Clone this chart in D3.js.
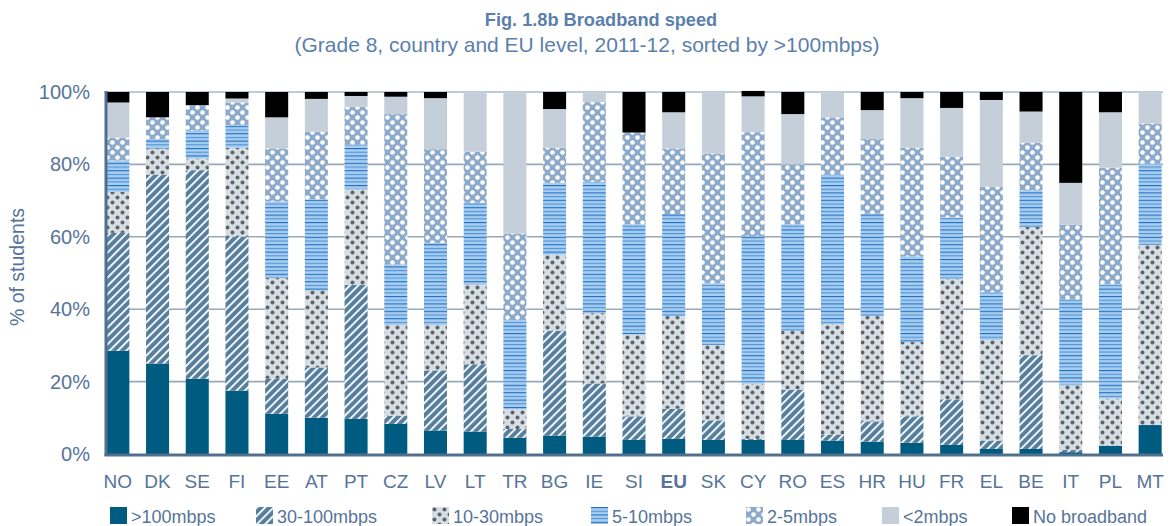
<!DOCTYPE html>
<html>
<head>
<meta charset="utf-8">
<script src="https://cdn.jsdelivr.net/npm/d3@7"></script>
<style>
  body { margin: 0; background: #fff; }
  text { font-family: "Liberation Sans", Arial, sans-serif; }
</style>
</head>
<body>
<div id="chart"></div>
<script>
// countries, sorted by >100mbps (EU average in the middle)
const countries = ["NO","DK","SE","FI","EE","AT","PT","CZ","LV","LT","TR","BG","IE","SI","EU","SK","CY","RO","ES","HR","HU","FR","EL","BE","IT","PL","MT"];

// % of students per speed band
const over100  = [28.5,25.0,20.8,17.5,11.1,10.0,9.7,8.3,6.5,6.2,4.5,5.1,4.8,3.9,4.2,3.9,3.9,3.9,3.7,3.4,3.1,2.5,1.4,1.4,0.5,2.3,8.0];
const s30to100 = [32.6,52.2,57.6,42.5,9.7,13.9,37.0,2.3,16.6,18.6,2.4,28.9,14.7,6.5,8.3,5.4,0.3,13.9,1.7,5.6,7.3,12.6,2.3,25.9,0.6,0,0];
const s10to30  = [11.3,7.2,3.2,24.6,27.8,21.2,26.4,25.0,12.5,21.9,5.4,21.0,19.4,22.6,25.6,20.8,15.2,16.2,30.5,29.1,20.6,33.3,27.8,35.4,17.9,13.0,49.8];
const s5to10   = [8.7,2.6,7.7,6.2,21.2,25.2,12.3,16.7,22.7,22.7,24.7,19.9,36.3,30.4,28.2,17.1,40.8,29.4,41.2,28.3,23.6,17.0,13.2,10.1,23.6,31.6,22.4];
const s2to5    = [6.3,6.0,7.1,6.3,14.6,18.7,10.5,41.6,25.9,14.1,23.9,9.7,22.0,25.4,18.1,35.8,28.7,16.6,15.9,20.6,30.0,16.7,29.1,13.2,20.8,32.2,11.1];
const under2   = [9.7,0,0,1.1,8.6,9.1,3.0,4.8,14.1,16.5,39.1,10.7,2.8,0,10.0,17.0,9.9,13.9,7.0,8.0,13.7,13.5,24.0,8.6,11.5,15.3,8.7];
const noBroadband = [2.9,7.0,3.6,1.8,7.0,1.9,1.1,1.3,1.7,0,0,4.7,0,11.2,5.6,0,1.5,6.1,0,5.0,1.7,4.4,2.2,5.4,25.1,5.6,0];

const seriesNames = [">100mbps","30-100mbps","10-30mbps","5-10mbps","2-5mbps","<2mbps","No broadband"];
const seriesValues = [over100, s30to100, s10to30, s5to10, s2to5, under2, noBroadband];
const yTicks = [0,20,40,60,80,100];

const W = 1175, H = 526;
const labelColor = "#56749a";

const table = countries.map((c, i) => {
  const row = {country: c};
  seriesNames.forEach((s, k) => row[s] = seriesValues[k][i]);
  return row;
});

const svg = d3.select("#chart").append("svg")
  .attr("width", W).attr("height", H);

// fill patterns
const defs = svg.append("defs");

const diag = defs.append("pattern").attr("id", "p30").attr("patternUnits", "userSpaceOnUse")
  .attr("width", 5.9).attr("height", 5.9).attr("patternTransform", "rotate(45)");
diag.append("rect").attr("width", 5.9).attr("height", 5.9).attr("fill", "#567e9d");
diag.append("rect").attr("x", 0).attr("width", 1.8).attr("height", 5.9).attr("fill", "#fff");

const dots = defs.append("pattern").attr("id", "p10").attr("patternUnits", "userSpaceOnUse")
  .attr("width", 10).attr("height", 10);
dots.append("rect").attr("width", 10).attr("height", 10).attr("fill", "#d5dde5");
dots.append("circle").attr("cx", 2.5).attr("cy", 2.5).attr("r", 2).attr("fill", "#626262");
dots.append("circle").attr("cx", 7.5).attr("cy", 7.5).attr("r", 2).attr("fill", "#626262");

const hlines = defs.append("pattern").attr("id", "p5").attr("patternUnits", "userSpaceOnUse")
  .attr("width", 8).attr("height", 7.4);
hlines.append("rect").attr("width", 8).attr("height", 7.4).attr("fill", "#a8cdee");
hlines.append("rect").attr("y", 0).attr("width", 8).attr("height", 1.1).attr("fill", "#1d6fc6");
hlines.append("rect").attr("y", 3.7).attr("width", 8).attr("height", 1.1).attr("fill", "#4c93dc");

const wdots = defs.append("pattern").attr("id", "p2").attr("patternUnits", "userSpaceOnUse")
  .attr("width", 10).attr("height", 10);
wdots.append("rect").attr("width", 10).attr("height", 10).attr("fill", "#8eaacb");
wdots.append("circle").attr("cx", 2.5).attr("cy", 2.5).attr("r", 2.3).attr("fill", "#fff");
wdots.append("circle").attr("cx", 7.5).attr("cy", 7.5).attr("r", 2.3).attr("fill", "#fff");

const fills = ["#005b80", "url(#p30)", "url(#p10)", "url(#p5)", "url(#p2)", "#c5cfd9", "#000"];

const x = d3.scaleBand().domain(countries).range([98, 1170])
  .paddingInner(0.42).paddingOuter(0.21);
const y = d3.scaleLinear().domain([0, 100]).range([454, 92]);

// title
svg.append("text").attr("x", 601).attr("y", 26).attr("text-anchor", "middle")
  .attr("font-size", 18.2).attr("font-weight", "bold").attr("fill", "#5b7fad")
  .text("Fig. 1.8b Broadband speed");
svg.append("text").attr("x", 587).attr("y", 52).attr("text-anchor", "middle")
  .attr("font-size", 21).attr("fill", "#5b7fad")
  .text("(Grade 8, country and EU level, 2011-12, sorted by >100mbps)");

// gridlines
svg.append("g").selectAll("line").data(yTicks.filter(d => d > 0)).join("line")
  .attr("x1", 106).attr("x2", 1163)
  .attr("y1", d => y(d)).attr("y2", d => y(d))
  .attr("stroke", d => d === 100 ? "#a8b8c8" : "#97a9b6").attr("stroke-width", 1.6);

// stacked bars
const stack = d3.stack().keys(seriesNames)(table);
svg.append("g").selectAll("g").data(stack).join("g")
  .attr("fill", (d, i) => fills[i])
  .selectAll("rect").data(d => d).join("rect")
  .attr("x", d => x(d.data.country))
  .attr("width", x.bandwidth())
  .attr("y", d => y(d[1]))
  .attr("height", d => y(d[0]) - y(d[1]));

// axes lines
svg.append("line").attr("x1", 106).attr("x2", 106).attr("y1", 91).attr("y2", 456)
  .attr("stroke", "#50708f").attr("stroke-width", 3);
svg.append("line").attr("x1", 104.5).attr("x2", 1163).attr("y1", 455).attr("y2", 455)
  .attr("stroke", "#50708f").attr("stroke-width", 3);

// y tick labels
svg.append("g").selectAll("text").data(yTicks).join("text")
  .attr("x", 90).attr("y", d => y(d) + 7).attr("text-anchor", "end")
  .attr("font-size", 20).attr("fill", labelColor)
  .text(d => d + "%");

svg.append("text").attr("transform", "translate(24,267) rotate(-90)")
  .attr("text-anchor", "middle").attr("font-size", 19.5).attr("fill", labelColor)
  .text("% of students");

// x labels
svg.append("g").selectAll("text").data(countries).join("text")
  .attr("x", d => x(d) + x.bandwidth() / 2).attr("y", 488)
  .attr("text-anchor", "middle").attr("font-size", 19).attr("fill", labelColor)
  .attr("font-weight", d => d === "EU" ? "bold" : "normal")
  .text(d => d);

// legend
const legendX = [110, 256, 432, 591, 746, 882, 1012];
const legend = svg.append("g").selectAll("g").data(seriesNames).join("g")
  .attr("transform", (d, i) => `translate(${legendX[i]},507)`);
legend.append("rect").attr("width", 17).attr("height", 17).attr("fill", (d, i) => fills[i]);
legend.append("text").attr("x", 21).attr("y", 15.5).attr("font-size", 18).attr("fill", labelColor)
  .text(d => d);
</script>
</body>
</html>
